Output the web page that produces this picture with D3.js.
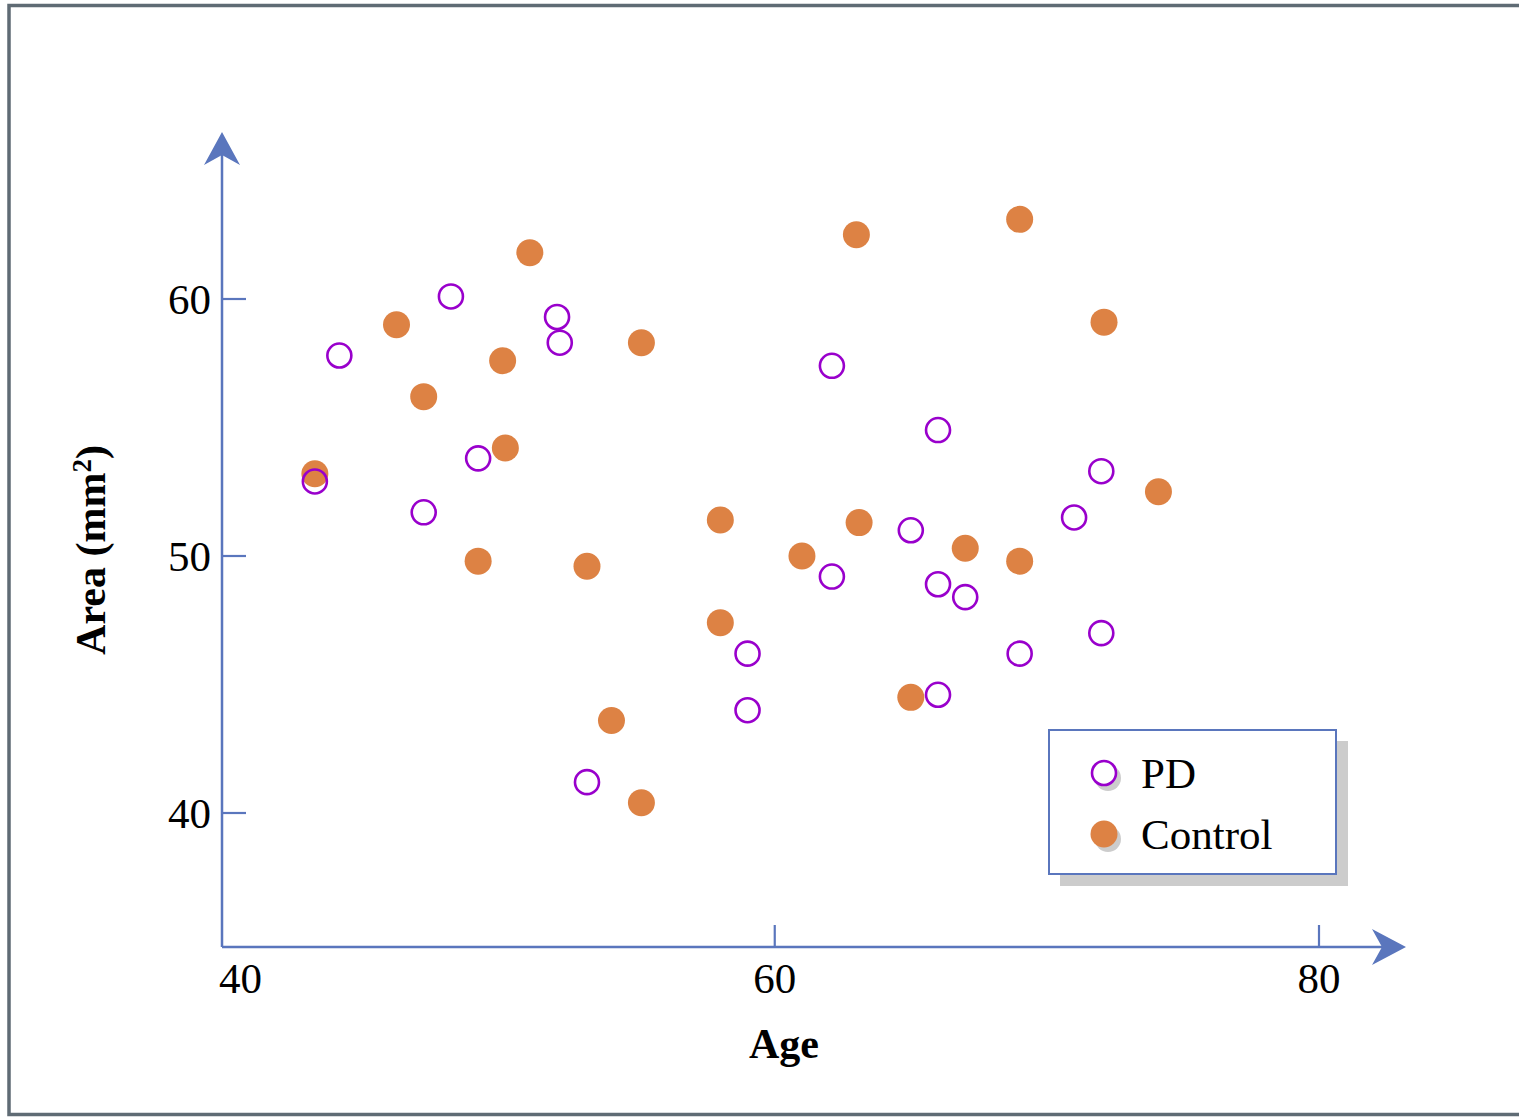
<!DOCTYPE html>
<html>
<head>
<meta charset="utf-8">
<script src="https://cdn.jsdelivr.net/npm/d3@7"></script>
<style>
  body { margin: 0; background: #fff; }
  svg text { font-family: 'Liberation Serif', 'Times New Roman', serif; fill: #000; }
</style>
</head>
<body>
<div class="Chart"></div>
<script>
// PD group (open circles) - age, area
const pdAge = [43.1, 44.0, 48.1, 47.1, 49.1, 52.0, 52.1, 53.1, 59.0, 59.0, 62.1, 62.1,
  66.0, 65.0, 66.0, 67.0, 66.0, 69.0, 71.0, 72.0, 72.0];
const pdArea = [52.9, 57.8, 60.1, 51.7, 53.8, 59.3, 58.3, 41.2, 46.2, 44.0, 57.4, 49.2,
  54.9, 51.0, 48.9, 48.4, 44.6, 46.2, 51.5, 53.3, 47.0];

// Control group (filled circles)
const ctrlAge = [43.1, 46.1, 47.1, 51.0, 50.0, 50.1, 49.1, 53.1, 55.1, 54.0, 55.1, 58.0,
  58.0, 61.0, 63.0, 63.1, 65.0, 67.0, 69.0, 69.0, 72.1, 74.1];
const ctrlArea = [53.2, 59.0, 56.2, 61.8, 57.6, 54.2, 49.8, 49.6, 58.3, 43.6, 40.4, 51.4,
  47.4, 50.0, 62.5, 51.3, 44.5, 50.3, 63.1, 49.8, 59.1, 52.5];

const xTicks = [40, 60, 80];
const yTicks = [40, 50, 60];
const legendLabels = ['PD', 'Control'];

const W = 1519, H = 1119;
const axisColor = '#5a76bd';
const pdColor = '#9900cc';
const ctrlColor = '#dd8244';

const svg = d3.select('.Chart').append('svg')
  .attr('width', W)
  .attr('height', H);

// outer frame
svg.append('rect')
  .attr('x', 9).attr('y', 5.5)
  .attr('width', W + 10).attr('height', 1109)
  .attr('fill', '#fff')
  .attr('stroke', '#5f6b74')
  .attr('stroke-width', 3.5);

const x = d3.scaleLinear().domain([40, 80]).range([230.5, 1319]);
const y = d3.scaleLinear().domain([40, 60]).range([813, 299]);

const x0 = 222, y0 = 947;
const xEnd = 1406, yEnd = 132;

const axes = svg.append('g').attr('class', 'axes');

// axis lines
axes.append('line')
  .attr('x1', x0).attr('y1', y0).attr('x2', xEnd - 20).attr('y2', y0)
  .attr('stroke', axisColor).attr('stroke-width', 2.5);
axes.append('line')
  .attr('x1', x0).attr('y1', y0).attr('x2', x0).attr('y2', yEnd + 20)
  .attr('stroke', axisColor).attr('stroke-width', 2.5);

// arrow heads
axes.append('path')
  .attr('d', `M${xEnd},${y0} L${xEnd - 34},${y0 - 18} L${xEnd - 24},${y0} L${xEnd - 34},${y0 + 18} Z`)
  .attr('fill', axisColor);
axes.append('path')
  .attr('d', `M${x0},${yEnd} L${x0 - 18},${yEnd + 33} L${x0},${yEnd + 23} L${x0 + 18},${yEnd + 33} Z`)
  .attr('fill', axisColor);

// x ticks (the 40 tick sits on the y axis, so only its label is shown)
xTicks.forEach(t => {
  if (t !== 40) {
    axes.append('line')
      .attr('x1', x(t)).attr('x2', x(t))
      .attr('y1', y0).attr('y2', y0 - 22)
      .attr('stroke', axisColor).attr('stroke-width', 2.2);
  }
  axes.append('text')
    .attr('x', t === 40 ? x(t) + 10 : x(t))
    .attr('y', 993)
    .attr('text-anchor', 'middle')
    .style('font-size', '43px')
    .text(t);
});

// y ticks
yTicks.forEach(t => {
  axes.append('line')
    .attr('x1', x0).attr('x2', x0 + 24)
    .attr('y1', y(t)).attr('y2', y(t))
    .attr('stroke', axisColor).attr('stroke-width', 2.2);
  axes.append('text')
    .attr('x', 211)
    .attr('y', y(t))
    .attr('dy', '0.35em')
    .attr('text-anchor', 'end')
    .style('font-size', '43px')
    .text(t);
});

// axis titles
svg.append('text')
  .attr('x', 784).attr('y', 1058)
  .attr('text-anchor', 'middle')
  .style('font-size', '42px')
  .style('font-weight', 'bold')
  .text('Age');

const yTitle = svg.append('text')
  .attr('transform', 'translate(105,550) rotate(-90)')
  .attr('text-anchor', 'middle')
  .style('font-size', '42px')
  .style('font-weight', 'bold');
yTitle.append('tspan').text('Area (mm');
yTitle.append('tspan').attr('dy', -14).style('font-size', '27px').text('2');
yTitle.append('tspan').attr('dy', 14).text(')');

// points: control first, PD drawn on top
const ctrl = ctrlAge.map((a, i) => ({ age: a, area: ctrlArea[i] }));
const pd = pdAge.map((a, i) => ({ age: a, area: pdArea[i] }));

svg.append('g').selectAll('circle')
  .data(ctrl)
  .join('circle')
  .attr('cx', d => x(d.age))
  .attr('cy', d => y(d.area))
  .attr('r', 13.5)
  .attr('fill', ctrlColor);

svg.append('g').selectAll('circle')
  .data(pd)
  .join('circle')
  .attr('cx', d => x(d.age))
  .attr('cy', d => y(d.area))
  .attr('r', 12)
  .attr('fill', 'none')
  .attr('stroke', pdColor)
  .attr('stroke-width', 2.6);

// legend
const legend = svg.append('g').attr('class', 'legend');
legend.append('rect')
  .attr('x', 1060).attr('y', 741)
  .attr('width', 288).attr('height', 145)
  .attr('fill', '#cccccc');
legend.append('rect')
  .attr('x', 1049).attr('y', 730)
  .attr('width', 287).attr('height', 144)
  .attr('fill', '#fff')
  .attr('stroke', axisColor)
  .attr('stroke-width', 2);

legendLabels.forEach((label, i) => {
  const cy = 773 + i * 61;
  legend.append('circle')
    .attr('cx', 1108).attr('cy', cy + 5)
    .attr('r', 13)
    .attr('fill', '#cccccc');
  if (label === 'PD') {
    legend.append('circle')
      .attr('cx', 1104).attr('cy', cy)
      .attr('r', 12)
      .attr('fill', '#fff')
      .attr('stroke', pdColor)
      .attr('stroke-width', 2.6);
  } else {
    legend.append('circle')
      .attr('cx', 1104).attr('cy', cy)
      .attr('r', 13.5)
      .attr('fill', ctrlColor);
  }
  legend.append('text')
    .attr('x', 1141).attr('y', cy)
    .attr('dy', '0.35em')
    .style('font-size', '43px')
    .text(label);
});
</script>
</body>
</html>
